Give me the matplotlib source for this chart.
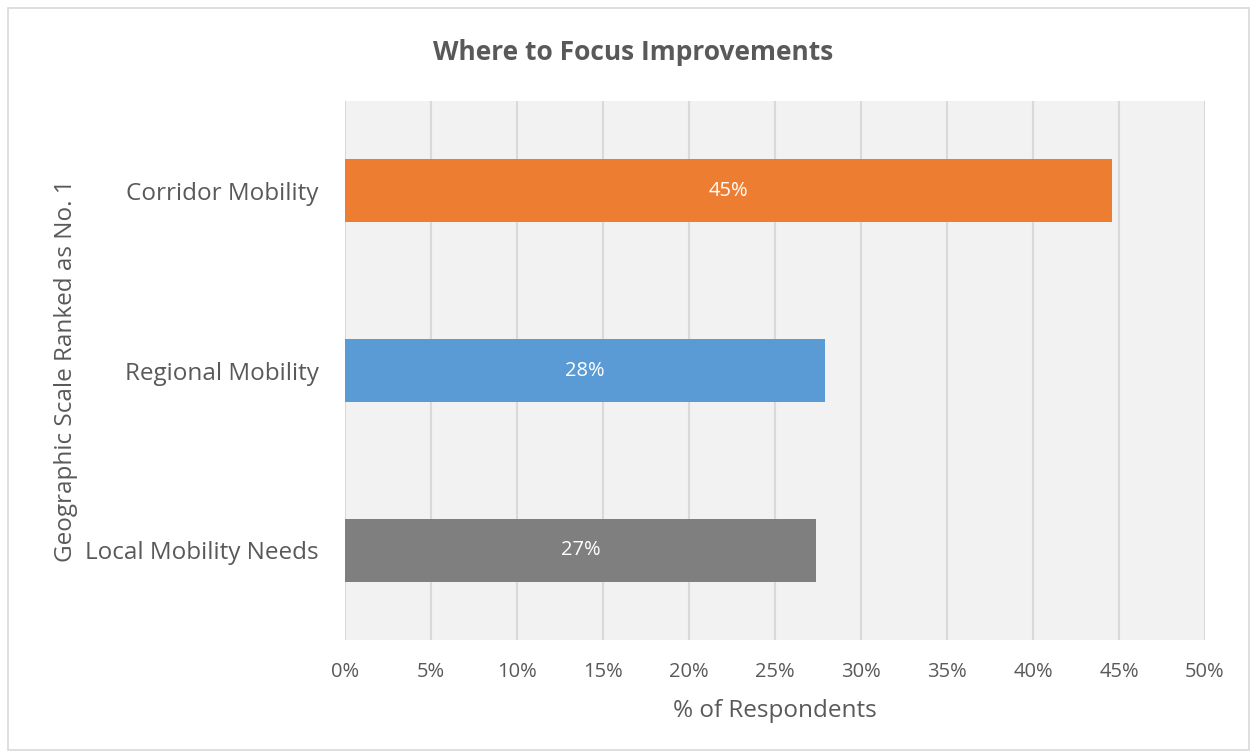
import matplotlib.pyplot as plt
from matplotlib.patches import Rectangle
from matplotlib.ticker import FuncFormatter

# survey results, bottom to top
categories = ["Local Mobility Needs", "Regional Mobility", "Corridor Mobility"]
shares = [27.4, 27.9, 44.6]
colors = ["#7F7F7F", "#5B9BD5", "#ED7D31"]

plt.rcParams['font.family'] = ['Open Sans', 'DejaVu Sans']
txt = "#595959"

fig = plt.figure(figsize=(12.53, 7.53), dpi=100)
ax = fig.add_axes([0.2753, 0.150, 0.6864, 0.7159])
ax.set_facecolor("#F2F2F2")

ypos = range(len(categories))
bars = ax.barh(ypos, shares, height=0.35, color=colors, zorder=3)
for b, v in zip(bars, shares):
    ax.text(v / 2, b.get_y() + b.get_height() / 2, f"{v:.0f}%",
            ha="center", va="center", color="white", fontsize=14.5, zorder=4)

ax.set_xlim(0, 50)
ax.set_ylim(-0.5, 2.5)
ax.set_xticks(range(0, 51, 5))
ax.xaxis.set_major_formatter(FuncFormatter(lambda x, p: f"{x:.0f}%"))
ax.set_yticks(list(ypos))
ax.set_yticklabels(categories)
ax.grid(axis="x", color="#D9D9D9", linewidth=1.5, zorder=1)
for s in ax.spines.values():
    s.set_visible(False)
ax.tick_params(length=0, colors=txt, labelsize=14.5)
ax.tick_params(axis="x", pad=16)
ax.tick_params(axis="y", pad=19)
for lbl in ax.get_yticklabels():
    lbl.set_fontsize(17.5)

ax.set_xlabel("% of Respondents", color=txt, fontsize=17.5, labelpad=12)
ax.set_ylabel("Geographic Scale Ranked as No. 1", color=txt, fontsize=17.5, labelpad=5)
fig.text(0.505, 0.930, "Where to Focus Improvements", ha="center", va="center",
         color=txt, fontsize=19, fontweight="bold")

# chart border
fig.patches.append(Rectangle((0.006, 0.004), 0.991, 0.985, transform=fig.transFigure,
                             fill=False, edgecolor="#D9D9D9", linewidth=1.2))

fig.savefig("out.png", dpi=100)
